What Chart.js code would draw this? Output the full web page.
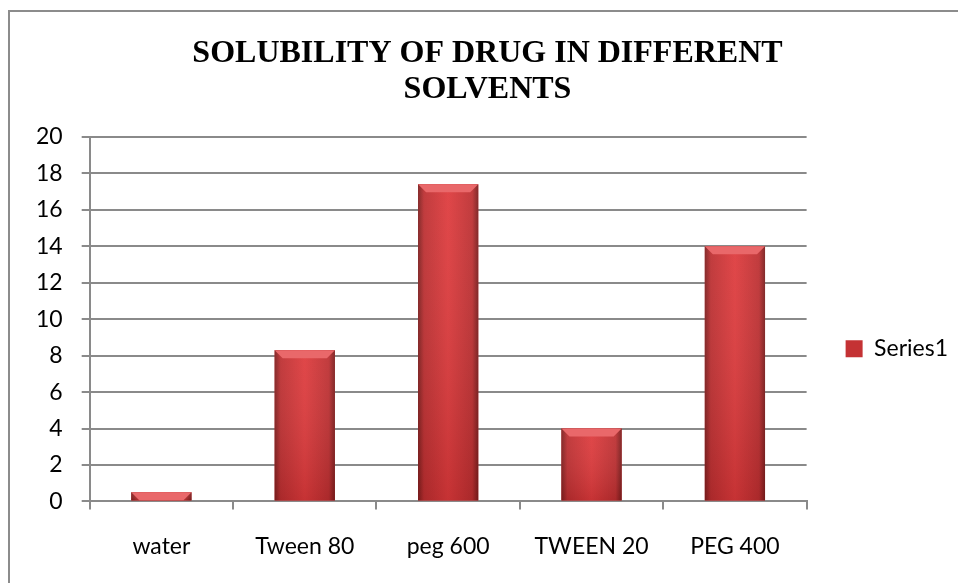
<!DOCTYPE html>
<html>
<head>
<meta charset="utf-8">
<script src="https://cdn.jsdelivr.net/npm/chart.js"></script>
<style>
  html, body { margin: 0; padding: 0; background: #fff; }
  #frame {
    position: absolute; left: 8px; top: 10px; width: 1000px; height: 600px;
    border-left: 2px solid #8c8c8c; border-top: 2px solid #8c8c8c;
  }
  #pie-chart { position: absolute; left: 0; top: 0; }
</style>
</head>
<body>
<div id="frame"></div>
<canvas id="pie-chart" width="958" height="583"></canvas>
<script>
var solvents = ['water', 'Tween 80', 'peg 600', 'TWEEN 20', 'PEG 400'];
var series1 = [0.5, 8.3, 17.4, 4, 14];
var yTicks = [0, 2, 4, 6, 8, 10, 12, 14, 16, 18, 20];

var gridColor = '#8a8a8a';
var labelFont = { family: 'Lato, "Open Sans", sans-serif', size: 23 };

// excel-ish bevelled look drawn over the bars the library placed
var bevel = {
  id: 'bevel',
  afterDatasetsDraw: function (chart) {
    var c = chart.ctx;
    chart.getDatasetMeta(0).data.forEach(function (bar) {
      var p = bar.getProps(['x', 'y', 'base', 'width'], true);
      var l = p.x - p.width / 2, r = p.x + p.width / 2;
      var t = p.y, b = p.base, h = b - t;
      c.save();
      var g = c.createLinearGradient(l, 0, r, 0);
      g.addColorStop(0, '#7e1f1f');
      g.addColorStop(0.1, '#bd3032');
      g.addColorStop(0.5, '#de3b3d');
      g.addColorStop(0.9, '#bd3032');
      g.addColorStop(1, '#7a1d1d');
      c.fillStyle = g;
      c.fillRect(l, t, r - l, h);
      var v = c.createLinearGradient(0, t, 0, b);
      v.addColorStop(0, 'rgba(255,255,255,0.06)');
      v.addColorStop(1, 'rgba(60,0,0,0.15)');
      c.fillStyle = v;
      c.fillRect(l, t, r - l, h);
      var d = Math.min(8, h);
      c.beginPath();
      c.moveTo(l, t);
      c.lineTo(r, t);
      c.lineTo(r - d, t + d);
      c.lineTo(l + d, t + d);
      c.closePath();
      c.fillStyle = '#e9686a';
      c.fill();
      c.restore();
    });
  }
};

var myChart = new Chart(document.getElementById('pie-chart'), {
  type: 'bar',
  data: {
    labels: solvents,
    datasets: [{
      label: 'Series1',
      data: series1,
      backgroundColor: '#c43234',
      borderWidth: 0,
      barPercentage: 0.42,
      categoryPercentage: 1
    }]
  },
  options: {
    responsive: false,
    animation: false,
    layout: {
      padding: { top: 22, left: 17, right: 0, bottom: 0 }
    },
    plugins: {
      title: {
        display: true,
        text: ['SOLUBILITY OF DRUG IN DIFFERENT', 'SOLVENTS'],
        color: '#000',
        font: { family: '"Liberation Serif", "Times New Roman", serif', size: 32, weight: 'bold', lineHeight: 1.125 },
        padding: { top: 14, bottom: 29 }
      },
      legend: {
        position: 'right',
        fullSize: false,
        maxWidth: 157,
        title: { display: true, text: ' ', font: { size: 10, lineHeight: 1 }, padding: { top: 0, bottom: 49 } },
        labels: {
          boxWidth: 17,
          boxHeight: 17,
          padding: 39,
          color: '#000',
          font: labelFont
        }
      },
      tooltip: { enabled: false }
    },
    scales: {
      x: {
        grid: {
          offset: true,
          drawOnChartArea: false,
          drawTicks: true,
          tickLength: 8,
          color: gridColor,
          lineWidth: 2
        },
        border: { display: true, color: gridColor, width: 2 },
        ticks: {
          padding: 23,
          color: '#000',
          maxRotation: 0,
          font: labelFont
        }
      },
      y: {
        min: 0,
        max: 20,
        afterBuildTicks: function (axis) {
          axis.ticks = yTicks.map(function (v) { return { value: v }; });
        },
        grid: {
          color: gridColor,
          lineWidth: 2,
          tickLength: 8
        },
        border: { display: true, color: gridColor, width: 2 },
        ticks: {
          padding: 19,
          color: '#000',
          font: labelFont
        }
      }
    }
  },
  plugins: [bevel]
});
</script>
</body>
</html>
